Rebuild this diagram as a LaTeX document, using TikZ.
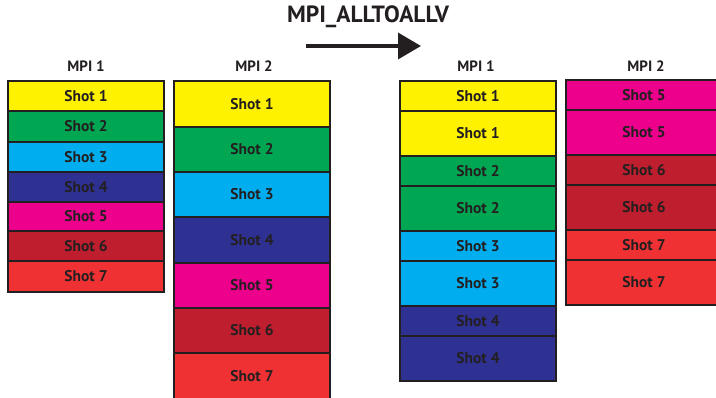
\documentclass[tikz,border=0pt]{standalone}
\usepackage{fontspec}
\setmainfont{PT Sans}
\usetikzlibrary{arrows.meta}
\definecolor{edge}{HTML}{231F20}
\definecolor{txt}{HTML}{231F20}
\definecolor{cyel}{HTML}{FFF200}
\definecolor{cgrn}{HTML}{00A651}
\definecolor{ccya}{HTML}{00AEEF}
\definecolor{cblu}{HTML}{2E3192}
\definecolor{cmag}{HTML}{EC008C}
\definecolor{cdrd}{HTML}{BE1E2D}
\definecolor{cred}{HTML}{EF3134}
\begin{document}
\begin{tikzpicture}[x=1pt,y=-1pt,
  cell/.style={draw=edge, line width=2.4pt, inner sep=0pt, outer sep=0pt, anchor=north west,
    font=\bfseries\fontsize{15.5}{18}\selectfont, text=txt},
  lbl/.style={font=\bfseries\fontsize{15}{18}\selectfont, text=txt, inner sep=0pt},
  ttl/.style={font=\bfseries\fontsize{23.5}{27}\selectfont, text=txt, inner sep=0pt}]
\clip (0,0) rectangle (716,398);
\fill[white] (0,0) rectangle (716,398);
% left MPI 1
\foreach \n/\c/\t/\b [count=\i] in {1/cyel/81/111,2/cgrn/111/142,3/ccya/142/172,4/cblu/172/202,5/cmag/202/231,6/cdrd/231/261,7/cred/261/292}
  \node[cell, fill=\c, minimum width=156pt, minimum height={(\b-\t)*1pt}] (la\i) at (8,\t) {Shot \n};
% left MPI 2
\foreach \n/\c/\t/\b [count=\i] in {1/cyel/81/127,2/cgrn/127/172,3/ccya/172/217,4/cblu/217/263,5/cmag/263/308,6/cdrd/308/353,7/cred/353/400}
  \node[cell, fill=\c, minimum width=156pt, minimum height={(\b-\t)*1pt}] (lb\i) at (174,\t) {Shot \n};
% right MPI 1
\foreach \n/\c/\t/\b [count=\i] in {1/cyel/81/111,1/cyel/111/156,2/cgrn/156/186,2/cgrn/186/231,3/ccya/231/261,3/ccya/261/306,4/cblu/306/336,4/cblu/336/381}
  \node[cell, fill=\c, minimum width=156pt, minimum height={(\b-\t)*1pt}] (ra\i) at (400,\t) {Shot \n};
% right MPI 2
\foreach \n/\c/\t/\b [count=\i] in {5/cmag/80/110,5/cmag/110/155,6/cdrd/155/185,6/cdrd/185/230,7/cred/230/260,7/cred/260/305}
  \node[cell, fill=\c, minimum width=156pt, minimum height={(\b-\t)*1pt}] (rb\i) at (566,\t) {Shot \n};
% labels
\node[lbl] (l1) at (86,66) {MPI 1};
\node[lbl] (l2) at (254,66) {MPI 2};
\node[lbl] (l3) at (476,66) {MPI 1};
\node[lbl] (l4) at (646,66) {MPI 2};
\node[ttl] (title) at (368,17) {MPI\_ALLTOALLV};
\coordinate (as) at (306,46);
\coordinate (ae) at (421,46);
\draw[edge, line width=3.5pt, -{Triangle[length=23pt,width=26pt]}] (as) -- (ae);
\end{tikzpicture}
\end{document}
